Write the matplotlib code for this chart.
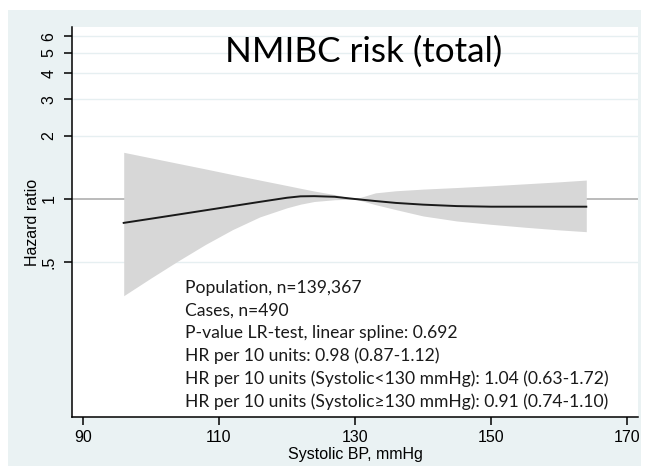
import matplotlib
matplotlib.use('Agg')
import matplotlib.pyplot as plt
from matplotlib.patches import Rectangle
from matplotlib.ticker import FixedLocator, NullLocator, FixedFormatter

# systolic BP (mmHg) and hazard ratio with 95% CI
bp = [96, 100, 104, 108, 112, 116, 120, 122, 124, 127, 130,
      133, 136, 140, 145, 150, 155, 160, 164]
hr = [0.769, 0.805, 0.843, 0.883, 0.925, 0.969, 1.014, 1.030, 1.032, 1.025, 1.0,
      0.978, 0.958, 0.940, 0.925, 0.919, 0.919, 0.919, 0.919]
hr_lo = [0.345, 0.419, 0.506, 0.606, 0.714, 0.821, 0.908, 0.945, 0.973, 0.992, 1.0,
         0.940, 0.890, 0.830, 0.785, 0.757, 0.733, 0.712, 0.698]
hr_hi = [1.672, 1.573, 1.480, 1.393, 1.309, 1.232, 1.160, 1.125, 1.092, 1.050, 1.0,
         1.070, 1.095, 1.115, 1.135, 1.157, 1.182, 1.208, 1.232]

y_ticks = [0.5, 1, 2, 3, 4, 5, 6]
y_tick_labels = ['.5', '1', '2', '3', '4', '5', '6']
x_ticks = [90, 110, 130, 150, 170]

title = 'NMIBC risk (total)'
stats_lines = [
    'Population, n=139,367',
    'Cases, n=490',
    'P-value LR-test, linear spline: 0.692',
    'HR per 10 units: 0.98 (0.87-1.12)',
    'HR per 10 units (Systolic<130 mmHg): 1.04 (0.63-1.72)',
    'HR per 10 units (Systolic\u2265130 mmHg): 0.91 (0.74-1.10)',
]

W, H = 645, 473
fig = plt.figure(figsize=(W / 100, H / 100), dpi=100)
fig.patch.set_facecolor('white')
# Stata-like graph region
fig.patches.append(Rectangle((8 / W, 1 - 466 / H), (641 - 8) / W, (466 - 10) / H,
                             transform=fig.transFigure, facecolor='#EAF2F3',
                             edgecolor='none', zorder=-10))

left, right, top, bottom = 72, 638, 27, 417
ax = fig.add_axes([left / W, 1 - bottom / H, (right - left) / W, (bottom - top) / H])
ax.set_facecolor('white')
ax.set_yscale('log')
ax.set_xlim(88.4, 171.6)
ax.set_ylim(0.0908, 6.64)

for s in ['top', 'right']:
    ax.spines[s].set_visible(False)
for s in ['left', 'bottom']:
    ax.spines[s].set_color('black')
    ax.spines[s].set_linewidth(1.1)

ax.yaxis.set_major_locator(FixedLocator(y_ticks))
ax.yaxis.set_major_formatter(FixedFormatter(y_tick_labels))
ax.yaxis.set_minor_locator(NullLocator())
ax.set_xticks(x_ticks)

ax.tick_params(axis='both', length=6, width=1.1, color='black', direction='out')
ax.tick_params(axis='y', pad=5, labelrotation=90)
ax.tick_params(axis='x', pad=3)
for lab in ax.get_yticklabels():
    lab.set_fontfamily('Liberation Sans')
    lab.set_fontsize(11.5)
    lab.set_va('center')
for lab in ax.get_xticklabels():
    lab.set_fontfamily('Liberation Sans')
    lab.set_fontsize(11.5)

# horizontal grid
for yv in y_ticks:
    if yv != 1:
        ax.axhline(yv, color='#E6EFF1', lw=1.0, zorder=0.5)
ax.axhline(1, color='#A8A8A8', lw=1.1, zorder=1)

ax.fill_between(bp, hr_lo, hr_hi, color='#D7D7D7', lw=0, zorder=2)
ax.plot(bp, hr, color='#1a1a1a', lw=1.4, zorder=3)

ax.set_ylabel('Hazard ratio', fontfamily='Liberation Sans', fontsize=11.5)
ax.yaxis.set_label_coords((40 - left) / (right - left), 0.5)
ax.set_xlabel('Systolic BP, mmHg', fontfamily='Liberation Sans', fontsize=11.5)
ax.xaxis.set_label_coords(0.5, (bottom - 447) / (bottom - top))

calibri_like = ['Lato', 'DejaVu Sans']
ax.text((363.5 - left) / (right - left), (bottom - 62) / (bottom - top), title,
        transform=ax.transAxes, ha='center', va='baseline',
        family=calibri_like, fontsize=25.2, color='black', zorder=5)

for i, line in enumerate(stats_lines):
    base = 292.7 + 22.8 * i
    ax.text((185 - left) / (right - left), (bottom - base) / (bottom - top), line,
            transform=ax.transAxes, ha='left', va='baseline',
            family=calibri_like, fontsize=12.6, color='#1a1a1a', zorder=5)

fig.savefig('out.png', dpi=100, facecolor='white')
